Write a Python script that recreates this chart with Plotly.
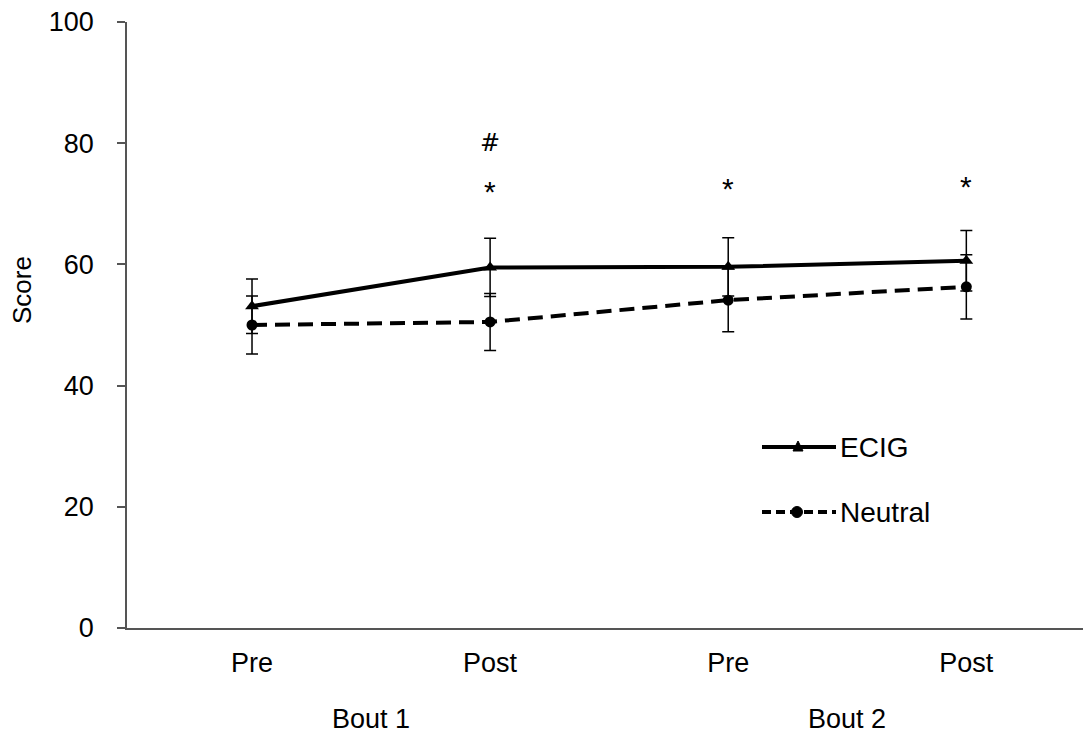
import plotly.graph_objects as go

time_labels = ["Pre", "Post", "Pre", "Post"]
bout_labels = ["Bout 1", "Bout 2"]
ecig = [53.1, 59.5, 59.6, 60.6]
ecig_err = [4.5, 4.8, 4.8, 5.0]
neutral = [50.0, 50.5, 54.1, 56.3]
neutral_err = [4.8, 4.7, 5.2, 5.3]
star_y = [72.0, 72.5, 72.8]
hash_y = [80.0]

idx = list(range(len(time_labels)))
FONT = "Liberation Sans, Arial, sans-serif"

fig = go.Figure()
fig.add_trace(go.Scatter(
    x=idx, y=neutral, mode="lines+markers", name="Neutral",
    line=dict(color="black", width=4, dash="15px,8px"),
    marker=dict(symbol="circle", size=11, color="black"),
    error_y=dict(type="data", array=neutral_err, visible=True, color="black", thickness=1.5, width=6),
    showlegend=False,
))
fig.add_trace(go.Scatter(
    x=idx, y=ecig, mode="lines+markers", name="ECIG",
    line=dict(color="black", width=4),
    marker=dict(symbol="triangle-up", size=12, color="black"),
    error_y=dict(type="data", array=ecig_err, visible=True, color="black", thickness=1.5, width=6),
    showlegend=False,
))

annotations = []
for i, yv in zip([1, 2, 3], star_y):
    annotations.append(dict(x=i, y=yv, xref="x", yref="y", text="*", showarrow=False,
                            font=dict(family=FONT, size=30, color="black")))
annotations.append(dict(x=1, y=hash_y[0], xref="x", yref="y", text="#", showarrow=False,
                        font=dict(family="DejaVu Sans, sans-serif", size=24, color="black")))
# Bout group labels
for k, lab in enumerate(bout_labels):
    annotations.append(dict(x=2 * k + 0.5, y=-0.150, xref="x", yref="paper", text=lab,
                            showarrow=False, yanchor="middle",
                            font=dict(family=FONT, size=27, color="black")))

# custom legend
def px_x(p):
    return (p - 127) / 956

def px_y(p):
    return (628 - p) / 606

# y-axis title
annotations.append(dict(x=px_x(22), y=px_y(290), xref="paper", yref="paper", text="Score",
                        textangle=-90, showarrow=False, xanchor="center", yanchor="middle",
                        font=dict(family=FONT, size=26, color="black")))

shapes = []
leg = [("ECIG", 447, "solid", "triangle"), ("Neutral", 512, "9px,5px", "circle")]
for name, py, dash, sym in leg:
    shapes.append(dict(type="line", xref="paper", yref="paper",
                       x0=px_x(762), x1=px_x(836), y0=px_y(py), y1=px_y(py),
                       line=dict(color="black", width=4, dash=dash)))
    annotations.append(dict(x=px_x(838), y=px_y(py), xref="paper", yref="paper", text=name,
                            showarrow=False, xanchor="left", yanchor="middle",
                            font=dict(family=FONT, size=28, color="black")))
    if sym == "triangle":
        cx, cy = 798, py
        path = f"M {px_x(cx-5)} {px_y(cy+4)} L {px_x(cx+5)} {px_y(cy+4)} L {px_x(cx)} {px_y(cy-6)} Z"
        shapes.append(dict(type="path", xref="paper", yref="paper", path=path,
                           fillcolor="black", line=dict(color="black", width=1)))
    else:
        cx, cy = 797, py
        shapes.append(dict(type="circle", xref="paper", yref="paper",
                           x0=px_x(cx-5.5), x1=px_x(cx+5.5), y0=px_y(cy+5.5), y1=px_y(cy-5.5),
                           fillcolor="black", line=dict(color="black", width=1)))

fig.update_layout(
    width=1083, height=735,
    margin=dict(l=127, r=0, t=22, b=107),
    paper_bgcolor="white", plot_bgcolor="white",
    font=dict(family=FONT, color="black"),
    showlegend=False,
    annotations=annotations,
    shapes=shapes,
)
fig.update_xaxes(
    range=[-0.525, 3.49], tickvals=idx, ticktext=time_labels,
    showgrid=False, zeroline=False, showline=True, linecolor="#555555", linewidth=1.5,
    ticks="", tickfont=dict(family=FONT, size=27, color="black"), ticklabelstandoff=10,
)
fig.update_yaxes(
    range=[0, 100], dtick=20, showgrid=False, zeroline=False,
    showline=True, linecolor="#555555", linewidth=1.5,
    ticks="outside", ticklen=8, tickwidth=1.5, tickcolor="#555555",
    tickfont=dict(family=FONT, size=27, color="black"), ticklabelstandoff=18,
)

fig.write_html("out.html", config={"displayModeBar": False},
               post_script="document.body.style.margin='0px';")
